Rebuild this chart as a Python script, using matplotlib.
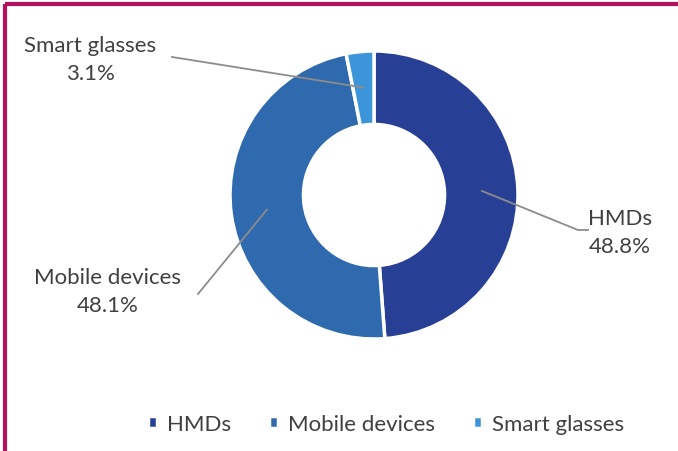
import matplotlib
matplotlib.use("Agg")
import matplotlib.pyplot as plt
import numpy as np

labels = ["HMDs", "Mobile devices", "Smart glasses"]
shares = [48.8, 48.1, 3.1]
colors = ["#283f96", "#2f6aae", "#3c95d8"]

plt.rcParams['font.family'] = ['Lato', 'DejaVu Sans']
txt = "#404040"

W, H = 678, 452
fig = plt.figure(figsize=(W / 100, H / 100), dpi=100)
ax = fig.add_axes([0, 0, 1, 1])

cx, cy, r = 374, H - 196, 144
wedges, _ = ax.pie(shares, colors=colors, startangle=90, counterclock=False,
                   center=(cx, cy), radius=r, frame=True,
                   wedgeprops=dict(width=r * 0.51, edgecolor="white", linewidth=2.5))
ax.set_xlim(0, W)
ax.set_ylim(0, H)
ax.set_aspect("equal")
ax.axis("off")

# label positions (pixels, y from top)
label_pos = [(620, 233), (108, 292), (90, 60)]
line_end = [(578, 231), (198, 295), (172, 58)]
line_tail = [(588, 231), (198, 295), (172, 58)]
for w, lab, val, (lx, ly), (ex, ey), (tx, ty) in zip(wedges, labels, shares, label_pos,
                                                      line_end, line_tail):
    ang = np.deg2rad((w.theta1 + w.theta2) / 2)
    rm = r * 0.75
    sx, sy = cx + rm * np.cos(ang), cy + rm * np.sin(ang)
    ax.plot([sx, ex, tx], [sy, H - ey, H - ty], color="#8c8c8c", lw=1.3)
    ax.text(lx, H - ly, f"{lab}\n{val}%", ha="center", va="center",
            fontsize=16, color=txt, linespacing=1.5)

leg = ax.legend(wedges, labels, loc="center", bbox_to_anchor=(386 / W, 1 - 425 / H),
                ncol=3, frameon=False, fontsize=16, handlelength=0.4, handleheight=0.4,
                handletextpad=0.45, columnspacing=1.7)
for t in leg.get_texts():
    t.set_color(txt)

# magenta border left and top
ax.plot([5, 5], [0, H - 5], color="#b5125e", lw=3, solid_capstyle="butt")
ax.plot([5, W], [H - 5, H - 5], color="#b5125e", lw=3, solid_capstyle="butt")

fig.savefig("out.png", dpi=100)
